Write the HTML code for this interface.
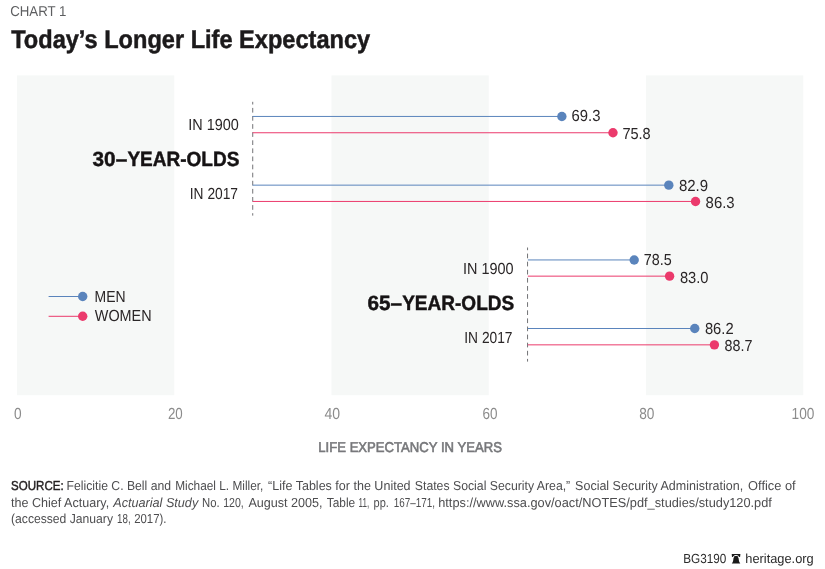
<!DOCTYPE html>
<html lang="en">
<head>
<meta charset="utf-8">
<title>Today’s Longer Life Expectancy</title>
<style>
html,body{margin:0;padding:0;background:#fff;}
body{width:825px;height:569px;overflow:hidden;position:relative;}
svg{position:absolute;left:0;top:0;display:block;}
text{font-family:"Liberation Sans",sans-serif;text-rendering:geometricPrecision;}
.lab{font-size:16px;fill:#2a2627;}
.val{font-size:16px;fill:#2a2627;}
.grp{font-size:20.6px;font-weight:bold;fill:#161314;stroke:#161314;stroke-width:0.45px;}
.ax{font-size:16px;fill:#8c8c8c;}
.src{font-size:13px;fill:#4d4d4f;}
.ft{font-size:13.2px;fill:#2b2b2b;}
</style>
</head>
<body>
<svg width="825" height="569" viewBox="0 0 825 569">
  <rect x="0" y="0" width="825" height="569" fill="#fff"/>
  <!-- header -->
  <text x="10.2" y="16" font-size="14.3" fill="#5d5e60" textLength="56.3" lengthAdjust="spacingAndGlyphs">CHART 1</text>
  <text x="11.2" y="48.4" font-size="25.6" font-weight="bold" fill="#1c1a1b" stroke="#1c1a1b" stroke-width="0.5" textLength="359" lengthAdjust="spacingAndGlyphs">Today’s Longer Life Expectancy</text>

  <g fill="#f6f8f7">
    <rect x="17.0" y="75.4" width="157.25" height="319.8"/>
    <rect x="331.5" y="75.4" width="157.25" height="319.8"/>
    <rect x="646.0" y="75.4" width="157.25" height="319.8"/>
  </g>
  <g stroke="#727376" stroke-width="1" stroke-dasharray="4.7 3.4" stroke-dashoffset="2" fill="none">
    <line x1="252.73" y1="101.8" x2="252.73" y2="215.6"/>
    <line x1="527.56" y1="247.5" x2="527.56" y2="361.6"/>
  </g>
  <g stroke-width="1" fill="none">
    <line x1="252.68" y1="116.45" x2="561.87" y2="116.45" stroke="#5a84bc"/>
    <line x1="252.68" y1="132.75" x2="612.98" y2="132.75" stroke="#eb3a6c"/>
    <line x1="252.68" y1="185.15" x2="668.8" y2="185.15" stroke="#5a84bc"/>
    <line x1="252.68" y1="201.45" x2="695.53" y2="201.45" stroke="#eb3a6c"/>
    <line x1="527.86" y1="259.95" x2="634.21" y2="259.95" stroke="#5a84bc"/>
    <line x1="527.86" y1="276.15" x2="669.59" y2="276.15" stroke="#eb3a6c"/>
    <line x1="527.86" y1="328.5" x2="694.75" y2="328.5" stroke="#5a84bc"/>
    <line x1="527.86" y1="344.85" x2="714.4" y2="344.85" stroke="#eb3a6c"/>
    <line x1="48.6" y1="296.5" x2="82" y2="296.5" stroke="#5a84bc"/>
    <line x1="48.6" y1="316.3" x2="82" y2="316.3" stroke="#eb3a6c"/>
  </g>
  <g>
    <circle cx="561.87" cy="116.45" r="4.7" fill="#5a84bc"/>
    <circle cx="612.98" cy="132.75" r="4.7" fill="#eb3a6c"/>
    <circle cx="668.8" cy="185.15" r="4.7" fill="#5a84bc"/>
    <circle cx="695.53" cy="201.45" r="4.7" fill="#eb3a6c"/>
    <circle cx="634.21" cy="259.95" r="4.7" fill="#5a84bc"/>
    <circle cx="669.59" cy="276.15" r="4.7" fill="#eb3a6c"/>
    <circle cx="694.75" cy="328.5" r="4.7" fill="#5a84bc"/>
    <circle cx="714.4" cy="344.85" r="4.7" fill="#eb3a6c"/>
    <circle cx="82.7" cy="296.5" r="4.7" fill="#5a84bc"/>
    <circle cx="82.7" cy="316.3" r="4.7" fill="#eb3a6c"/>
  </g>
  <text class="val" x="571.6" y="121.0" textLength="28.9" lengthAdjust="spacingAndGlyphs">69.3</text>
  <text class="val" x="622.4" y="139.25" textLength="28.3" lengthAdjust="spacingAndGlyphs">75.8</text>
  <text class="val" x="678.9" y="190.6" textLength="29.2" lengthAdjust="spacingAndGlyphs">82.9</text>
  <text class="val" x="705.6" y="208.2" textLength="29.0" lengthAdjust="spacingAndGlyphs">86.3</text>
  <text class="val" x="643.8" y="264.7" textLength="27.9" lengthAdjust="spacingAndGlyphs">78.5</text>
  <text class="val" x="679.9" y="282.8" textLength="28.6" lengthAdjust="spacingAndGlyphs">83.0</text>
  <text class="val" x="704.9" y="333.8" textLength="28.7" lengthAdjust="spacingAndGlyphs">86.2</text>
  <text class="val" x="724.5" y="351.3" textLength="27.9" lengthAdjust="spacingAndGlyphs">88.7</text>
  <text class="lab" x="188.2" y="129.9" textLength="50.6" lengthAdjust="spacingAndGlyphs">IN 1900</text>
  <text class="lab" x="189.8" y="199.2" textLength="48.2" lengthAdjust="spacingAndGlyphs">IN 2017</text>
  <text class="lab" x="463" y="273.8" textLength="50.6" lengthAdjust="spacingAndGlyphs">IN 1900</text>
  <text class="lab" x="464.3" y="343.1" textLength="48.2" lengthAdjust="spacingAndGlyphs">IN 2017</text>
  <text class="grp" x="92.6" y="165.7"><tspan textLength="34.6" lengthAdjust="spacingAndGlyphs">30–</tspan><tspan x="127.4" textLength="112" lengthAdjust="spacingAndGlyphs">YEAR-OLDS</tspan></text>
  <text class="grp" x="367.4" y="309.6"><tspan textLength="34.6" lengthAdjust="spacingAndGlyphs">65–</tspan><tspan x="402.2" textLength="112" lengthAdjust="spacingAndGlyphs">YEAR-OLDS</tspan></text>
  <text class="lab" x="94.6" y="301.7" textLength="31" lengthAdjust="spacingAndGlyphs">MEN</text>
  <text class="lab" x="94.8" y="321.3" textLength="56.8" lengthAdjust="spacingAndGlyphs">WOMEN</text>

  <text class="ax" x="14.0" y="419.3" textLength="7.6" lengthAdjust="spacingAndGlyphs">0</text>
  <text class="ax" x="167.9" y="419.3" textLength="14.8" lengthAdjust="spacingAndGlyphs">20</text>
  <text class="ax" x="324.5" y="419.3" textLength="15.6" lengthAdjust="spacingAndGlyphs">40</text>
  <text class="ax" x="482.4" y="419.3" textLength="15" lengthAdjust="spacingAndGlyphs">60</text>
  <text class="ax" x="639.2" y="419.3" textLength="15.2" lengthAdjust="spacingAndGlyphs">80</text>
  <text class="ax" x="791.6" y="419.3" textLength="22.8" lengthAdjust="spacingAndGlyphs">100</text>
  <text x="318.3" y="452.15" font-size="14.2" fill="#77787b" stroke="#77787b" stroke-width="0.6" textLength="183.6" lengthAdjust="spacingAndGlyphs">LIFE EXPECTANCY IN YEARS</text>
  <text class="src" x="11.1" y="490.1" textLength="52.6" lengthAdjust="spacingAndGlyphs" style="fill:#231f20;stroke:#231f20;stroke-width:0.45px">SOURCE:</text>
  <text class="src" x="66.6" y="490.1" textLength="104.4" lengthAdjust="spacingAndGlyphs">Felicitie C. Bell and</text>
  <text class="src" x="175.2" y="490.1" textLength="88.1" lengthAdjust="spacingAndGlyphs">Michael L. Miller,</text>
  <text class="src" x="268" y="490.1" textLength="142.6" lengthAdjust="spacingAndGlyphs">“Life Tables for the United</text>
  <text class="src" x="414.8" y="490.1" textLength="155.4" lengthAdjust="spacingAndGlyphs">States Social Security Area,”</text>
  <text class="src" x="575.1" y="490.1" textLength="168.1" lengthAdjust="spacingAndGlyphs">Social Security Administration,</text>
  <text class="src" x="748.1" y="490.1" textLength="47.6" lengthAdjust="spacingAndGlyphs">Office of</text>
  <text class="src" x="11" y="506.9" textLength="98.2" lengthAdjust="spacingAndGlyphs">the Chief Actuary,</text>
  <text class="src" x="113.3" y="506.9" textLength="84.9" lengthAdjust="spacingAndGlyphs" font-style="italic">Actuarial Study</text>
  <text class="src" x="202" y="506.9" textLength="17.6" lengthAdjust="spacingAndGlyphs">No.</text>
  <text class="src" x="223.2" y="506.9" textLength="20.6" lengthAdjust="spacingAndGlyphs">120,</text>
  <text class="src" x="248.4" y="506.9" textLength="74.2" lengthAdjust="spacingAndGlyphs">August 2005,</text>
  <text class="src" x="326.8" y="506.9" textLength="28.4" lengthAdjust="spacingAndGlyphs">Table</text>
  <text class="src" x="358.6" y="506.9" textLength="10.6" lengthAdjust="spacingAndGlyphs">11,</text>
  <text class="src" x="373.6" y="506.9" textLength="15.3" lengthAdjust="spacingAndGlyphs">pp.</text>
  <text class="src" x="393.8" y="506.9" textLength="41.2" lengthAdjust="spacingAndGlyphs">167–171,</text>
  <text class="src" x="438.2" y="506.9" textLength="333.7" lengthAdjust="spacingAndGlyphs">https://www.ssa.gov/oact/NOTES/pdf_studies/study120.pdf</text>
  <text class="src" x="11" y="522.9" textLength="102" lengthAdjust="spacingAndGlyphs">(accessed January</text>
  <text class="src" x="117" y="522.9" textLength="13.6" lengthAdjust="spacingAndGlyphs">18,</text>
  <text class="src" x="134.2" y="522.9" textLength="32.3" lengthAdjust="spacingAndGlyphs">2017).</text>
  <!-- footer -->
  <text class="ft" x="683.2" y="563.4" textLength="43.2" lengthAdjust="spacingAndGlyphs">BG3190</text>
  <g>
    <path d="M731.7 553.9 H740.4 L740.1 557.1 H732 Z" fill="#1a1a1a"/>
    <path d="M731.8 563.4 L732.6 562.2 C733.2 561.4 733.3 560 733.4 558.8 C733.5 557.3 734.6 556.5 736.05 556.5 C737.5 556.5 738.6 557.3 738.7 558.8 C738.8 560 738.9 561.4 739.5 562.2 L740.3 563.4 Z" fill="#1a1a1a"/>
    <path d="M732.7 557.7 C733.6 554.7 738.5 554.7 739.4 557.7" fill="none" stroke="#fff" stroke-width="0.95"/>
  </g>
  <text class="ft" x="745.3" y="563.4" textLength="68.4" lengthAdjust="spacingAndGlyphs">heritage.org</text>
</svg>
</body>
</html>
